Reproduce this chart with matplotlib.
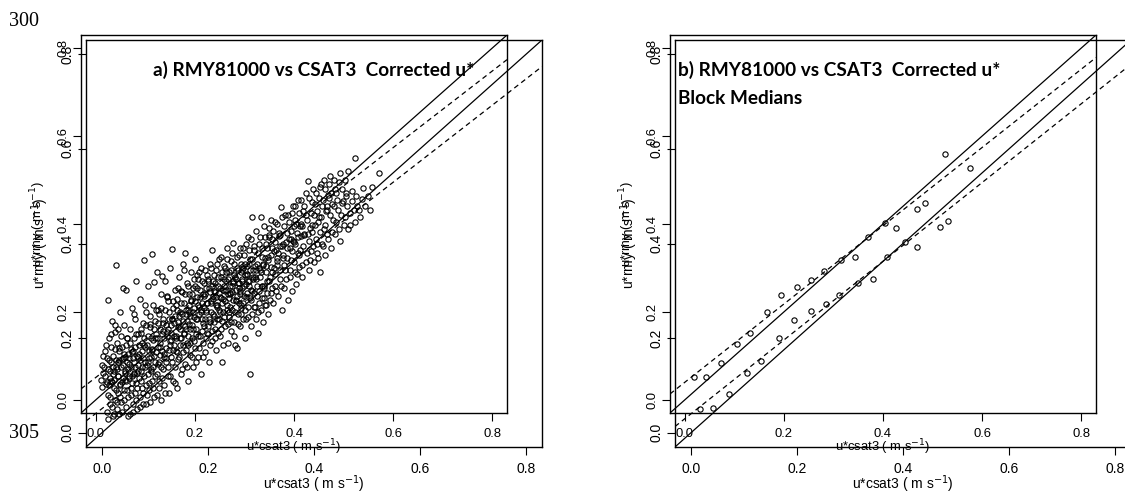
import matplotlib
matplotlib.use("Agg")
import matplotlib.pyplot as plt
import numpy as np

# panel a: 30-min u* pairs (csat3, rmy)
ustar_csat = [
    0.010, 0.012, 0.015, 0.018, 0.020, 0.022, 0.024, 0.025, 0.027, 0.028, 0.030, 0.030,
    0.032, 0.033, 0.035, 0.036, 0.038, 0.040, 0.041, 0.043,
    0.045, 0.046, 0.048, 0.050, 0.051, 0.053, 0.055, 0.056, 0.058, 0.060, 0.061, 0.063,
    0.065, 0.066, 0.068, 0.070, 0.071, 0.073, 0.075, 0.076, 0.078, 0.079, 0.080, 0.082,
    0.085, 0.086, 0.088, 0.090, 0.091, 0.093, 0.095, 0.096, 0.098, 0.100, 0.101, 0.103,
    0.105, 0.106, 0.108, 0.110, 0.111, 0.113, 0.115, 0.116, 0.118, 0.120, 0.121, 0.123,
    0.125, 0.127, 0.128, 0.130, 0.132, 0.134, 0.135, 0.137, 0.139, 0.140, 0.142, 0.144,
    0.145, 0.147, 0.149, 0.150, 0.152, 0.154, 0.155, 0.157, 0.159, 0.160, 0.162, 0.164,
    0.166, 0.168,
    0.170, 0.171, 0.173, 0.175, 0.176, 0.178, 0.180, 0.181, 0.183, 0.185, 0.187, 0.188,
    0.190, 0.192, 0.193, 0.195, 0.197, 0.199, 0.200, 0.202, 0.204, 0.206, 0.208, 0.210,
    0.212, 0.214, 0.216, 0.218,
    0.220, 0.222, 0.224, 0.226, 0.228, 0.230, 0.232, 0.234, 0.236, 0.238, 0.240, 0.242,
    0.244, 0.246, 0.248, 0.250, 0.252, 0.254, 0.256, 0.258, 0.260, 0.262, 0.264, 0.266,
    0.268, 0.269, 0.270, 0.272,
    0.275, 0.277, 0.279, 0.280, 0.282, 0.284, 0.286, 0.288, 0.290, 0.292, 0.294, 0.296,
    0.298, 0.300, 0.302, 0.304, 0.306, 0.308, 0.310, 0.312, 0.314, 0.316, 0.318, 0.320,
    0.323, 0.326,
    0.330, 0.333, 0.334, 0.336, 0.339, 0.341, 0.344, 0.346, 0.349, 0.351, 0.354, 0.356,
    0.359, 0.361, 0.364, 0.366, 0.369, 0.371, 0.374, 0.377, 0.380, 0.384,
    0.388, 0.391, 0.394, 0.397, 0.400, 0.403, 0.406, 0.409, 0.412, 0.415, 0.418, 0.421,
    0.424, 0.427, 0.429, 0.432, 0.436, 0.440,
    0.445, 0.449, 0.452, 0.456, 0.460, 0.464, 0.468, 0.472, 0.477, 0.482, 0.487, 0.493,
    0.505, 0.523,
    # denser core
    0.012, 0.014, 0.016, 0.019, 0.021, 0.023, 0.026, 0.029, 0.031, 0.034, 0.037, 0.039,
    0.042, 0.044, 0.047, 0.049, 0.052, 0.054, 0.057, 0.059, 0.062, 0.064, 0.067, 0.069,
    0.072, 0.074, 0.077, 0.081, 0.083, 0.084, 0.087, 0.089, 0.092, 0.094, 0.097, 0.099,
    0.102, 0.104, 0.107, 0.109, 0.112, 0.114, 0.117, 0.119, 0.122,
    0.124, 0.126, 0.129, 0.131, 0.133, 0.136, 0.138, 0.141, 0.143, 0.146, 0.148, 0.151,
    0.153, 0.156, 0.158, 0.161, 0.163, 0.165, 0.167, 0.169, 0.172, 0.174, 0.177, 0.179,
    0.182, 0.184, 0.186, 0.189, 0.191, 0.194, 0.196, 0.198, 0.201, 0.203, 0.205, 0.207,
    0.209, 0.211, 0.213, 0.215, 0.217, 0.219, 0.221, 0.223, 0.225, 0.227, 0.229, 0.231,
    0.233, 0.235, 0.237, 0.239,
    0.241, 0.243, 0.245, 0.247, 0.249, 0.251, 0.253, 0.255, 0.257, 0.259, 0.261, 0.263,
    0.265, 0.267, 0.271, 0.273, 0.274, 0.276, 0.278, 0.281, 0.283, 0.285, 0.287, 0.289,
    0.291, 0.293, 0.295, 0.297,
    0.299, 0.301, 0.303, 0.305, 0.307, 0.309, 0.311, 0.313, 0.315, 0.317, 0.319, 0.321,
    0.324, 0.327, 0.329, 0.331, 0.335, 0.338, 0.340, 0.343, 0.347, 0.350, 0.353, 0.355,
    0.358,
    0.362, 0.365, 0.368, 0.372, 0.375, 0.378, 0.382, 0.386, 0.390, 0.393, 0.396, 0.399,
    0.402, 0.405, 0.408, 0.411, 0.414, 0.417, 0.420, 0.425, 0.430, 0.434, 0.438, 0.442,
    0.447,
    0.451, 0.455, 0.459, 0.463, 0.467, 0.471, 0.475, 0.480, 0.485, 0.490, 0.497, 0.502,
    0.510,
]
ustar_rmy = [
    0.045, 0.080, 0.060, 0.110, 0.035, 0.095, 0.227, 0.070, 0.140, 0.050, 0.120, 0.085,
    0.180, 0.040, 0.100, 0.065, 0.155, 0.307, 0.090, 0.130,
    0.055, 0.110, 0.200, 0.075, 0.145, 0.040, 0.095, 0.170, 0.060, 0.125, 0.250, 0.085,
    0.105, 0.050, 0.160, 0.115, 0.075, 0.210, 0.095, 0.140, 0.060, 0.185, 0.120, 0.270,
    0.080, 0.150, 0.105, 0.230, 0.065, 0.130, 0.175, 0.095, 0.318, 0.120, 0.200, 0.080,
    0.145, 0.260, 0.110, 0.165, 0.070, 0.332, 0.135, 0.215, 0.100, 0.180, 0.150, 0.290,
    0.120, 0.085, 0.195, 0.160, 0.240, 0.110, 0.175, 0.140, 0.270, 0.205, 0.095, 0.155,
    0.225, 0.185, 0.125, 0.300, 0.170, 0.343, 0.210, 0.145, 0.250, 0.190, 0.110, 0.230,
    0.165, 0.280,
    0.200, 0.140, 0.245, 0.180, 0.310, 0.220, 0.334, 0.160, 0.265, 0.205, 0.125, 0.240,
    0.190, 0.290, 0.225, 0.170, 0.255, 0.210, 0.320, 0.150, 0.235, 0.275, 0.195, 0.250,
    0.300, 0.220, 0.175, 0.265,
    0.240, 0.205, 0.285, 0.150, 0.255, 0.310, 0.225, 0.340, 0.270, 0.190, 0.245, 0.295,
    0.215, 0.260, 0.320, 0.235, 0.280, 0.180, 0.250, 0.305, 0.225, 0.270, 0.345, 0.240,
    0.290, 0.200, 0.260, 0.315,
    0.245, 0.357, 0.285, 0.125, 0.225, 0.300, 0.265, 0.330, 0.240, 0.290, 0.210, 0.275,
    0.345, 0.260, 0.310, 0.235, 0.285, 0.370, 0.270, 0.320, 0.250, 0.417, 0.295, 0.340,
    0.275, 0.310,
    0.355, 0.290, 0.415, 0.325, 0.260, 0.370, 0.305, 0.345, 0.390, 0.280, 0.330, 0.365,
    0.300, 0.405, 0.340, 0.315, 0.380, 0.350, 0.438, 0.330, 0.395, 0.360,
    0.420, 0.345, 0.385, 0.440, 0.360, 0.410, 0.380, 0.455, 0.340, 0.400, 0.430, 0.375,
    0.470, 0.410, 0.497, 0.390, 0.450, 0.420,
    0.470, 0.405, 0.485, 0.440, 0.500, 0.430, 0.465, 0.510, 0.445, 0.480, 0.455, 0.517,
    0.470, 0.550,
    # denser core
    0.030, 0.100, 0.075, 0.055, 0.125, 0.040, 0.090, 0.065, 0.150, 0.075, 0.045, 0.115,
    0.070, 0.160, 0.090, 0.035, 0.120, 0.080, 0.105, 0.045, 0.140, 0.070, 0.095, 0.130,
    0.055, 0.110, 0.085, 0.150, 0.100, 0.060, 0.125, 0.090, 0.160, 0.110, 0.140, 0.075,
    0.170, 0.125, 0.095, 0.190, 0.140, 0.115, 0.160, 0.085, 0.205,
    0.140, 0.175, 0.120, 0.210, 0.150, 0.185, 0.105, 0.170, 0.235, 0.160, 0.200, 0.135,
    0.185, 0.225, 0.175, 0.140, 0.205, 0.255, 0.190, 0.160, 0.220, 0.195, 0.150, 0.240,
    0.205, 0.180, 0.260, 0.215, 0.160, 0.240, 0.200, 0.275, 0.225, 0.185, 0.255, 0.215,
    0.290, 0.235, 0.200, 0.270, 0.240, 0.210, 0.295, 0.255, 0.220, 0.275, 0.185, 0.245,
    0.300, 0.260, 0.230, 0.285,
    0.265, 0.235, 0.310, 0.280, 0.205, 0.255, 0.325, 0.290, 0.230, 0.275, 0.300, 0.250,
    0.320, 0.275, 0.240, 0.295, 0.335, 0.265, 0.310, 0.280, 0.250, 0.325, 0.295, 0.265,
    0.345, 0.310, 0.255, 0.300,
    0.330, 0.285, 0.355, 0.305, 0.270, 0.340, 0.295, 0.365, 0.320, 0.280, 0.350, 0.305,
    0.385, 0.335, 0.300, 0.370, 0.345, 0.310, 0.395, 0.355, 0.325, 0.370, 0.410, 0.345,
    0.385,
    0.360, 0.400, 0.335, 0.375, 0.415, 0.355, 0.420, 0.380, 0.405, 0.365, 0.425, 0.395,
    0.440, 0.400, 0.370, 0.425, 0.455, 0.395, 0.440, 0.420, 0.460, 0.425, 0.480, 0.445,
    0.430,
    0.460, 0.490, 0.455, 0.480, 0.440, 0.490, 0.470, 0.500, 0.470, 0.495, 0.480, 0.500,
    0.520,
]

# panel b: block medians
med_csat = [0.018, 0.042, 0.072, 0.106, 0.132, 0.166, 0.194, 0.226, 0.254,
            0.280, 0.316, 0.343, 0.369, 0.404, 0.427, 0.469, 0.485, 0.526]
med_rmy = [0.051, 0.052, 0.083, 0.127, 0.152, 0.200, 0.238, 0.257, 0.273,
           0.292, 0.317, 0.326, 0.371, 0.403, 0.392, 0.434, 0.448, 0.560]

# regression lines (intercept, slope)
fit_a = (0.051, 0.871)
fit_b = (0.040, 0.890)

ticks = [0.0, 0.2, 0.4, 0.6, 0.8]
tick_labels = ["0.0", "0.2", "0.4", "0.6", "0.8"]
lims = (-0.03, 0.83)

W, H = 1125, 493
fig = plt.figure(figsize=(W / 100, H / 100), dpi=100)
plt.rcParams['font.family'] = ['Liberation Sans', 'DejaVu Sans']


def px_rect(x0, y0, x1, y1):
    return [x0 / W, 1 - y1 / H, (x1 - x0) / W, (y1 - y0) / H]


def draw_copy(rect, xs, ys, fit, fs):
    ax = fig.add_axes(rect)
    ax.patch.set_alpha(0)
    ax.plot(xs, ys, 'o', mfc='none', mec='black', ms=3.8, mew=0.8)
    ax.axline((0, 0), slope=1, color='black', lw=0.9)
    ax.axline((0, fit[0]), slope=fit[1], color='black', lw=0.9, ls=(0, (4, 3)))
    ax.set_xlim(lims)
    ax.set_ylim(lims)
    ax.set_xticks(ticks)
    ax.set_xticklabels(tick_labels)
    ax.set_yticks(ticks)
    ax.set_yticklabels(tick_labels, rotation=90, va='center')
    ax.tick_params(direction='out', length=6, width=0.8, labelsize=fs)
    ax.tick_params(axis='x', pad=5)
    ax.tick_params(axis='y', pad=2)
    for s in ax.spines.values():
        s.set_linewidth(1.0)
    ax.set_xlabel("u*csat3 ( m s$^{-1}$)", fontsize=fs, labelpad=-2)
    ax.set_ylabel("u*rmy ( m s$^{-1}$)", fontsize=fs, labelpad=7)
    return ax


# panel a: smaller copy behind, larger copy on top
draw_copy(px_rect(81, 35, 507, 413), ustar_csat, ustar_rmy, fit_a, 9.4)
draw_copy(px_rect(86, 40, 542, 447), ustar_csat, ustar_rmy, fit_a, 10)
# panel b
draw_copy(px_rect(670, 35, 1096, 413), med_csat, med_rmy, fit_b, 9.4)
draw_copy(px_rect(675, 40, 1131, 447), med_csat, med_rmy, fit_b, 10)

title_font = dict(family=['Lato', 'DejaVu Sans'], fontweight='bold', fontsize=13.7)
fig.text(153 / W, 1 - 70 / H, "a) RMY81000 vs CSAT3  Corrected u*", va='center', ha='left', **title_font)
fig.text(678 / W, 1 - 70 / H, "b) RMY81000 vs CSAT3  Corrected u*", va='center', ha='left', **title_font)
fig.text(678 / W, 1 - 98 / H, "Block Medians", va='center', ha='left', **title_font)

line_font = dict(family=['Liberation Serif', 'DejaVu Serif'], fontsize=14.5)
fig.text(9 / W, 1 - 21 / H, "300", va='center', ha='left', **line_font)
fig.text(9 / W, 1 - 434 / H, "305", va='center', ha='left', **line_font)

fig.savefig("out.png", dpi=100)
